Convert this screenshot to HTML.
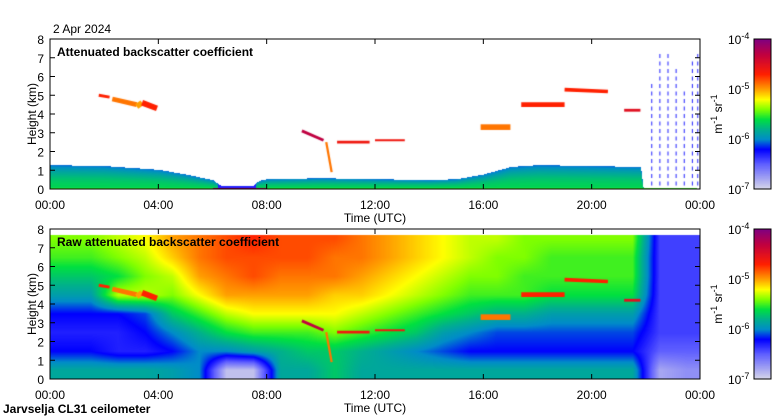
<!DOCTYPE html>
<html><head><meta charset="utf-8">
<style>
body{margin:0;background:#fff;}
#wrap{position:relative;width:780px;height:420px;overflow:hidden;font-family:"Liberation Sans",sans-serif;}
canvas{position:absolute;}
svg{position:absolute;left:0;top:0;}
text{font-family:"Liberation Sans",sans-serif;font-size:12px;fill:#000;}
</style></head>
<body>
<div id="wrap">
<canvas id="c1" width="650" height="150" style="left:50px;top:39px"></canvas>
<canvas id="c2" width="650" height="150" style="left:50px;top:229px"></canvas>
<canvas id="cb1" width="17" height="150" style="left:754px;top:39px"></canvas>
<canvas id="cb2" width="17" height="150" style="left:754px;top:229px"></canvas>
<svg id="ax" width="780" height="420"></svg>
</div>
<script>
// ---- data ----
const blhTimes=[0,2,4,5,6,6.3,7.5,7.7,8,10,12,14,15,16,17,18,20,21.8,21.9,24];
const blhVals=[1.3,1.25,1.05,0.8,0.5,0.2,0.2,0.45,0.55,0.6,0.55,0.5,0.55,0.8,1.2,1.3,1.25,1.2,0.1,0.05];
const cloudStart=[1.8,2.3,3.2,3.4,9.3,10.2,10.6,12.0,15.9,17.4,19.0,21.2];
const cloudEnd=[2.2,3.2,3.4,3.95,10.1,10.4,11.8,13.1,17.0,19.0,20.6,21.8];
const cloudBaseStart=[5.0,4.8,4.4,4.6,3.1,2.5,2.5,2.6,3.3,4.5,5.3,4.2];
const cloudBaseEnd=[4.9,4.5,4.6,4.3,2.6,0.9,2.5,2.6,3.3,4.5,5.2,4.2];
const cloudThick=[0.15,0.25,0.3,0.3,0.15,0.12,0.15,0.1,0.3,0.25,0.2,0.15];
const cloudVal=[-4.7,-4.9,-5.0,-4.7,-4.3,-4.9,-4.6,-4.6,-4.9,-4.7,-4.7,-4.5];
const streakHours=[22.2,22.5,22.8,23.1,23.4,23.7,23.9];
const streakTops=[5.5,7.3,7.3,6.5,5.2,6.8,7.4];
// raw backscatter log10 values: per hour, rows 0-1km .. 7-8km
const rawGrid=[
[-5.85,-6.2,-6.3,-6.2,-5.9,-5.7,-5.5,-5.4],
[-5.85,-6.2,-6.3,-6.2,-5.9,-5.7,-5.5,-5.4],
[-5.85,-6.3,-6.3,-6.2,-5.3,-5.6,-5.4,-5.3],
[-5.85,-6.3,-6.2,-6.1,-5.3,-5.4,-5.3,-5.2],
[-5.9,-6.2,-6.0,-5.7,-5.4,-5.3,-5.1,-5.0],
[-6.0,-6.0,-5.8,-5.5,-5.2,-5.0,-4.9,-4.9],
[-6.9,-6.0,-5.6,-5.3,-5.0,-4.9,-4.8,-4.8],
[-6.9,-5.9,-5.5,-5.2,-5.0,-4.8,-4.8,-4.7],
[-5.85,-5.8,-5.5,-5.2,-5.0,-4.9,-4.8,-4.8],
[-5.85,-5.7,-5.5,-5.2,-5.0,-4.9,-4.8,-4.8],
[-5.7,-5.7,-5.4,-5.2,-5.1,-4.9,-4.9,-4.8],
[-5.85,-5.8,-5.5,-5.3,-5.1,-5.0,-4.9,-4.9],
[-5.85,-5.9,-5.6,-5.4,-5.2,-5.1,-5.0,-5.0],
[-5.85,-6.0,-5.7,-5.5,-5.3,-5.2,-5.1,-5.1],
[-5.85,-6.1,-5.9,-5.6,-5.4,-5.3,-5.2,-5.2],
[-5.85,-6.2,-6.0,-5.7,-5.5,-5.4,-5.3,-5.3],
[-5.85,-6.2,-6.1,-5.8,-5.5,-5.4,-5.4,-5.3],
[-5.85,-6.2,-6.1,-5.8,-5.5,-5.5,-5.4,-5.4],
[-5.85,-6.2,-6.1,-5.9,-5.6,-5.5,-5.5,-5.4],
[-5.85,-6.2,-6.1,-5.9,-5.6,-5.5,-5.5,-5.4],
[-5.85,-6.2,-6.1,-5.9,-5.6,-5.5,-5.5,-5.4],
[-5.85,-6.2,-6.1,-5.9,-5.6,-5.5,-5.5,-5.4],
[-6.8,-6.5,-6.4,-6.4,-6.4,-6.4,-6.4,-6.4],
[-6.7,-6.5,-6.4,-6.4,-6.4,-6.4,-6.4,-6.4]];
const xTickLabels=["00:00","04:00","08:00","12:00","16:00","20:00","00:00"];
const yTickLabels=["0","1","2","3","4","5","6","7","8"];
const cbLabels=["-4","-5","-6","-7"];

// ---- scales ----
const W=650,H=150;
const xs=h=>h/24*W;
const ys=k=>H-k/8*H;
const stops=[[-7,[216,216,232]],[-6.5,[96,96,255]],[-6.2,[0,0,255]],[-6.0,[0,140,200]],[-5.8,[0,176,140]],[-5.6,[0,224,64]],[-5.4,[128,255,0]],[-5.2,[255,255,0]],[-5.0,[255,160,0]],[-4.7,[255,32,0]],[-4.3,[192,0,64]],[-4.0,[128,0,128]]];
function col(v){
  if(v<=stops[0][0])return stops[0][1];
  for(let i=1;i<stops.length;i++){if(v<=stops[i][0]){const a=stops[i-1],b=stops[i],f=(v-a[0])/(b[0]-a[0]);return a[1].map((c,j)=>Math.round(c+(b[1][j]-c)*f));}}
  return stops[stops.length-1][1];
}
function interp(ts,vs,t){for(let i=1;i<ts.length;i++){if(t<=ts[i]){const f=(t-ts[i-1])/(ts[i]-ts[i-1]);return vs[i-1]+(vs[i]-vs[i-1])*f;}}return vs[vs.length-1];}
function rgb(c){return `rgb(${c[0]},${c[1]},${c[2]})`;}

function drawClouds(ctx){
  for(let i=0;i<cloudStart.length;i++){
    ctx.strokeStyle=rgb(col(cloudVal[i]));
    ctx.lineWidth=Math.max(2,cloudThick[i]*H/8);
    ctx.beginPath();ctx.moveTo(xs(cloudStart[i]),ys(cloudBaseStart[i]));ctx.lineTo(xs(cloudEnd[i]),ys(cloudBaseEnd[i]));ctx.stroke();
  }
}

// top panel
(function(){
  const ctx=document.getElementById('c1').getContext('2d');
  const img=ctx.createImageData(W,H);
  for(let px=0;px<W;px++){
    const t=px/W*24, blh=interp(blhTimes,blhVals,t);
    for(let py=0;py<H;py++){
      const k=(H-py)/H*8; let v=null;
      if(k<blh){const f=k/blh; v=-5.65-0.4*f*f; if(t>6.2&&t<7.6)v=-6.3; if(k<0.08)v=(t>6&&t<8)?-4.2:-5.5;}
      const o=(py*W+px)*4;
      if(v===null){img.data[o]=255;img.data[o+1]=255;img.data[o+2]=255;img.data[o+3]=255;}
      else{const c=col(v);img.data[o]=c[0];img.data[o+1]=c[1];img.data[o+2]=c[2];img.data[o+3]=255;}
    }
  }
  ctx.putImageData(img,0,0);
  ctx.fillStyle=rgb(col(-6.3));
  for(let i=0;i<streakHours.length;i++){
    const x=xs(streakHours[i]);
    for(let k=0.2;k<streakTops[i];k+=0.4){ctx.fillRect(x,ys(k+0.2),1,4);}
  }
  drawClouds(ctx);
})();

// bottom panel
(function(){
  const ctx=document.getElementById('c2').getContext('2d');
  const img=ctx.createImageData(W,H);
  for(let px=0;px<W;px++){
    const t=px/W*24-0.5;
    const i0=Math.max(0,Math.min(23,Math.floor(t))),i1=Math.max(0,Math.min(23,i0+1)),ft=Math.max(0,Math.min(1,t-i0));
    for(let py=0;py<H;py++){
      const k=(H-py)/H*8, o=(py*W+px)*4;
      if(k>7.7){img.data[o]=255;img.data[o+1]=255;img.data[o+2]=255;img.data[o+3]=255;continue;}
      const r=k-0.5, j0=Math.max(0,Math.min(7,Math.floor(r))), j1=Math.max(0,Math.min(7,j0+1)), fr=Math.max(0,Math.min(1,r-j0));
      const a=rawGrid[i0][j0]*(1-fr)+rawGrid[i0][j1]*fr, b=rawGrid[i1][j0]*(1-fr)+rawGrid[i1][j1]*fr;
      let v=a*(1-ft)+b*ft;
      const c=col(v);img.data[o]=c[0];img.data[o+1]=c[1];img.data[o+2]=c[2];img.data[o+3]=255;
    }
  }
  ctx.putImageData(img,0,0);
  drawClouds(ctx);
})();

// colorbars
['cb1','cb2'].forEach(id=>{
  const ctx=document.getElementById(id).getContext('2d');
  for(let py=0;py<150;py++){ctx.fillStyle=rgb(col(-4-3*py/150));ctx.fillRect(0,py,17,1);}
});

// axes
const svg=document.getElementById('ax');
const NS='http://www.w3.org/2000/svg';
function el(tag,attrs,txt){const e=document.createElementNS(NS,tag);for(const k in attrs)e.setAttribute(k,attrs[k]);if(txt!==undefined)e.textContent=txt;svg.appendChild(e);return e;}
function panel(top,title,name){
  const g=el('rect',{x:50,y:top,width:650,height:150,fill:'none',stroke:'#000','stroke-width':1});
  
  
  xTickLabels.forEach((l,i)=>{
    const x=50+i*650/6;
    el('line',{x1:x,y1:top+150,x2:x,y2:top+145,stroke:'#000'});
    el('line',{x1:x,y1:top,x2:x,y2:top+5,stroke:'#000'});
    const t=el('text',{x:x,y:top+170,'text-anchor':'middle'},l);
    
    
  });
  yTickLabels.forEach((l,i)=>{
    const y=top+150-i*150/8;
    el('line',{x1:50,y1:y,x2:55,y2:y,stroke:'#000'});
    el('line',{x1:700,y1:y,x2:695,y2:y,stroke:'#000'});
    const t=el('text',{x:44,y:y+5,'text-anchor':'end'},l);
    
    
  });
  const yl=el('text',{x:36,y:top+75,'text-anchor':'middle',transform:`rotate(-90 36 ${top+75})`},'Height (km)');
  
  
  const xl=el('text',{x:375,y:top+183,'text-anchor':'middle'},'Time (UTC)');
  
  
  const tt=el('text',{x:57,y:top+17,'font-weight':'bold'},title);
  
  
  el('rect',{x:754,y:top,width:17,height:150,fill:'none',stroke:'#000'});
  cbLabels.forEach((l,i)=>{
    const y=top+i*50;
    const t=el('text',{x:728,y:y+5});
    
    
    t.innerHTML=`10<tspan dy="-5" font-size="9">${l}</tspan>`;
  });
  const u=el('text',{x:722,y:top+75,'text-anchor':'middle',transform:`rotate(-90 722 ${top+75})`});
  
  
  u.innerHTML='m<tspan dy="-5" font-size="9">-1</tspan><tspan dy="5"> sr</tspan><tspan dy="-5" font-size="9">-1</tspan>';
}
panel(39,'Attenuated backscatter coefficient','top-panel');
panel(229,'Raw attenuated backscatter coefficient','bottom-panel');
const d=el('text',{x:53,y:33},'2 Apr 2024');


const f=el('text',{x:3,y:413,'font-weight':'bold'},'Jarvselja CL31 ceilometer');


</script>
</body></html>
